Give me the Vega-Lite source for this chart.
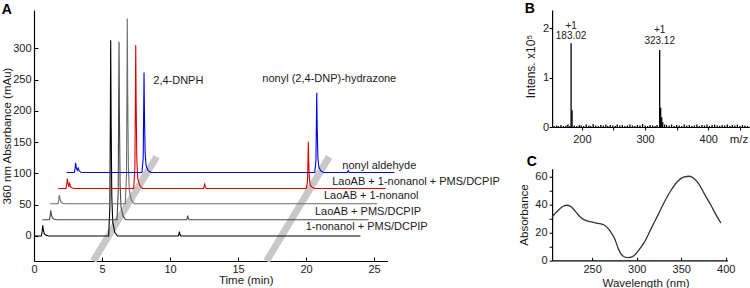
{
  "$schema": "https://vega.github.io/schema/vega-lite/v6.json",
  "padding": {"left": 1, "top": 1, "right": 0, "bottom": 0},
  "autosize": {"type": "pad"},
  "bounds": "flush",
  "spacing": 164.1,
  "config": {
    "view": {"stroke": null},
    "font": "Liberation Sans",
    "axis": {
      "labelFont": "Liberation Sans", "titleFont": "Liberation Sans",
      "labelFontSize": 11, "titleFontSize": 11.5, "titleFontWeight": "normal",
      "labelColor": "#1a1a1a", "titleColor": "#1a1a1a",
      "domainColor": "#000000", "tickColor": "#000000", "domainWidth": 1.2, "tickWidth": 1,
      "grid": false, "labelFlush": false, "labelOverlap": false
    }
  },
  "hconcat": [
    {
      "width": 353.6,
      "height": 251,
      "encoding": {
        "x": {"field": "t", "type": "quantitative",
          "scale": {"domain": [0, 26], "nice": false, "zero": false},
          "axis": {"values": [0, 5, 10, 15, 20, 25], "title": "Time (min)", "tickSize": -4, "labelPadding": 6,
                   "titleX": 211.7, "titleY": 19, "titleBaseline": "middle", "titleAlign": "center"}},
        "y": {"field": "v", "type": "quantitative",
          "scale": {"domain": [-40, 361.4], "nice": false, "zero": false},
          "axis": {"values": [0, 50, 100, 150, 200, 250, 300], "title": "360 nm Absorbance (mAu)", "tickSize": -4, "labelPadding": 7, "titlePadding": 0}}
      },
      "layer": [
        {
          "data": {"values": [
            {"t": 4.36, "v": -40, "band": 1}, {"t": 9.02, "v": 126.8, "band": 1},
            {"t": 17.1, "v": -40, "band": 2}, {"t": 21.7, "v": 126.5, "band": 2}
          ]},
          "mark": {"type": "line", "color": "#c8c8c8", "strokeWidth": 7, "strokeCap": "butt"},
          "encoding": {"detail": {"field": "band"}}
        },
        {
          "data": {"values": [
            {"s": "k", "t": 0, "v": 0}, {"s": "k", "t": 0.54, "v": 0}, {"s": "k", "t": 0.6, "v": 6.8}, {"s": "k", "t": 0.64, "v": 17}, {"s": "k", "t": 0.69, "v": 9.4}, {"s": "k", "t": 0.76, "v": 3.4}, {"s": "k", "t": 0.89, "v": 1}, {"s": "k", "t": 1.09, "v": 0},
            {"s": "k", "t": 5.49, "v": 0}, {"s": "k", "t": 5.58, "v": 47}, {"s": "k", "t": 5.62, "v": 219}, {"s": "k", "t": 5.64, "v": 313}, {"s": "k", "t": 5.67, "v": 188}, {"s": "k", "t": 5.72, "v": 63}, {"s": "k", "t": 5.79, "v": 22}, {"s": "k", "t": 5.94, "v": 6}, {"s": "k", "t": 6.14, "v": 0},
            {"s": "k", "t": 10.61, "v": 0}, {"s": "k", "t": 10.66, "v": 3.5}, {"s": "k", "t": 10.69, "v": 7}, {"s": "k", "t": 10.73, "v": 2.8}, {"s": "k", "t": 10.79, "v": 0}, {"s": "k", "t": 24.0, "v": 0},

            {"s": "d", "t": 0.61, "v": 26}, {"s": "d", "t": 1.13, "v": 26}, {"s": "d", "t": 1.19, "v": 32}, {"s": "d", "t": 1.23, "v": 41}, {"s": "d", "t": 1.28, "v": 34.3}, {"s": "d", "t": 1.35, "v": 29}, {"s": "d", "t": 1.48, "v": 26.9}, {"s": "d", "t": 1.68, "v": 26},
            {"s": "d", "t": 6.1, "v": 26}, {"s": "d", "t": 6.19, "v": 68.7}, {"s": "d", "t": 6.23, "v": 225.3}, {"s": "d", "t": 6.25, "v": 310.7}, {"s": "d", "t": 6.28, "v": 196.8}, {"s": "d", "t": 6.33, "v": 82.9}, {"s": "d", "t": 6.4, "v": 45.9}, {"s": "d", "t": 6.55, "v": 31.7}, {"s": "d", "t": 6.75, "v": 26},
            {"s": "d", "t": 11.22, "v": 26}, {"s": "d", "t": 11.27, "v": 29.3}, {"s": "d", "t": 11.3, "v": 32.5}, {"s": "d", "t": 11.34, "v": 28.6}, {"s": "d", "t": 11.4, "v": 26}, {"s": "d", "t": 24.6, "v": 26},

            {"s": "g", "t": 1.18, "v": 51.5}, {"s": "g", "t": 1.76, "v": 51.5}, {"s": "g", "t": 1.82, "v": 57.1}, {"s": "g", "t": 1.86, "v": 65.5}, {"s": "g", "t": 1.91, "v": 59.2}, {"s": "g", "t": 1.98, "v": 54.3}, {"s": "g", "t": 2.11, "v": 52.3}, {"s": "g", "t": 2.31, "v": 51.5},
            {"s": "g", "t": 6.71, "v": 51.5}, {"s": "g", "t": 6.8, "v": 96}, {"s": "g", "t": 6.84, "v": 259.1}, {"s": "g", "t": 6.86, "v": 348}, {"s": "g", "t": 6.89, "v": 229.4}, {"s": "g", "t": 6.94, "v": 110.8}, {"s": "g", "t": 7.01, "v": 72.3}, {"s": "g", "t": 7.16, "v": 57.4}, {"s": "g", "t": 7.36, "v": 51.5}, {"s": "g", "t": 25.24, "v": 51.5},

            {"s": "r", "t": 1.79, "v": 76}, {"s": "r", "t": 2.35, "v": 76}, {"s": "r", "t": 2.41, "v": 82.4}, {"s": "r", "t": 2.45, "v": 92}, {"s": "r", "t": 2.5, "v": 84.8}, {"s": "r", "t": 2.56, "v": 80}, {"s": "r", "t": 2.62, "v": 84}, {"s": "r", "t": 2.68, "v": 79}, {"s": "r", "t": 2.8, "v": 76.8}, {"s": "r", "t": 3.0, "v": 76},
            {"s": "r", "t": 7.33, "v": 76}, {"s": "r", "t": 7.42, "v": 110.4}, {"s": "r", "t": 7.46, "v": 236.6}, {"s": "r", "t": 7.48, "v": 305.4}, {"s": "r", "t": 7.51, "v": 213.6}, {"s": "r", "t": 7.56, "v": 121.9}, {"s": "r", "t": 7.63, "v": 92.1}, {"s": "r", "t": 7.78, "v": 80.6}, {"s": "r", "t": 7.98, "v": 76},
            {"s": "r", "t": 12.47, "v": 76}, {"s": "r", "t": 12.52, "v": 80}, {"s": "r", "t": 12.55, "v": 84}, {"s": "r", "t": 12.59, "v": 79.2}, {"s": "r", "t": 12.65, "v": 76},
            {"s": "r", "t": 20.02, "v": 76}, {"s": "r", "t": 20.11, "v": 87.2}, {"s": "r", "t": 20.15, "v": 128.4}, {"s": "r", "t": 20.17, "v": 150.8}, {"s": "r", "t": 20.2, "v": 120.9}, {"s": "r", "t": 20.25, "v": 91}, {"s": "r", "t": 20.32, "v": 81.2}, {"s": "r", "t": 20.47, "v": 77.5}, {"s": "r", "t": 20.67, "v": 76}, {"s": "r", "t": 25.86, "v": 76},

            {"s": "b", "t": 2.4, "v": 101.5}, {"s": "b", "t": 2.96, "v": 101.5}, {"s": "b", "t": 3.02, "v": 107.7}, {"s": "b", "t": 3.06, "v": 117}, {"s": "b", "t": 3.11, "v": 109}, {"s": "b", "t": 3.18, "v": 105}, {"s": "b", "t": 3.25, "v": 108.5}, {"s": "b", "t": 3.32, "v": 104}, {"s": "b", "t": 3.45, "v": 102}, {"s": "b", "t": 3.65, "v": 101.5},
            {"s": "b", "t": 7.94, "v": 101.5}, {"s": "b", "t": 8.03, "v": 125.5}, {"s": "b", "t": 8.07, "v": 213.6}, {"s": "b", "t": 8.09, "v": 261.6}, {"s": "b", "t": 8.12, "v": 197.6}, {"s": "b", "t": 8.17, "v": 133.5}, {"s": "b", "t": 8.24, "v": 112.7}, {"s": "b", "t": 8.39, "v": 104.7}, {"s": "b", "t": 8.59, "v": 101.5},
            {"s": "b", "t": 20.64, "v": 101.5}, {"s": "b", "t": 20.73, "v": 120.6}, {"s": "b", "t": 20.77, "v": 190.8}, {"s": "b", "t": 20.79, "v": 229}, {"s": "b", "t": 20.82, "v": 178}, {"s": "b", "t": 20.87, "v": 127}, {"s": "b", "t": 20.94, "v": 110.4}, {"s": "b", "t": 21.09, "v": 104.1}, {"s": "b", "t": 21.29, "v": 101.5},
            {"s": "b", "t": 23.02, "v": 101.5}, {"s": "b", "t": 23.1, "v": 104.5}, {"s": "b", "t": 23.18, "v": 101.5}, {"s": "b", "t": 26.5, "v": 101.5}
          ]},
          "mark": {"type": "line", "strokeWidth": 1.1},
          "encoding": {
            "color": {"field": "s", "type": "nominal", "legend": null,
              "scale": {"domain": ["k", "d", "g", "r", "b"], "range": ["#000000", "#4a4a4a", "#6e6e6e", "#e00000", "#0000e6"]}}
          }
        },
        {
          "data": {"values": [
            {"t": 8.77, "v": 248.4, "text": "2,4-DNPH"},
            {"t": 16.79, "v": 251, "text": "nonyl (2,4-DNP)-hydrazone"},
            {"t": 22.67, "v": 112.4, "text": "nonyl aldehyde"},
            {"t": 21.93, "v": 86.8, "text": "LaoAB + 1-nonanol + PMS/DCPIP"},
            {"t": 21.32, "v": 64, "text": "LaoAB + 1-nonanol"},
            {"t": 20.66, "v": 38.9, "text": "LaoAB + PMS/DCPIP"},
            {"t": 19.98, "v": 14.9, "text": "1-nonanol + PMS/DCPIP"}
          ]},
          "mark": {"type": "text", "align": "left", "baseline": "middle", "fontSize": 11, "color": "#1a1a1a"},
          "encoding": {"text": {"field": "text"}}
        },
        {
          "data": {"values": [{"t": -2.375, "v": 361.9, "text": "A"}]},
          "mark": {"type": "text", "align": "left", "baseline": "middle", "fontSize": 14, "fontWeight": "bold", "color": "#000000"},
          "encoding": {"text": {"field": "text"}}
        }
      ]
    },
    {
      "vconcat": [
        {
          "width": 198.3,
          "height": 117,
          "encoding": {
            "x": {"field": "mz", "type": "quantitative",
              "scale": {"domain": [153, 466.6], "nice": false, "zero": false},
              "axis": {"values": [200, 250, 300, 350, 400, 450], "labelExpr": "datum.value % 100 === 0 ? datum.label : ''",
                       "title": "m/z", "tickSize": 3, "labelPadding": 3,
                       "titleX": 186.3, "titleY": 12, "titleBaseline": "middle", "titleAlign": "center", "titleAngle": 0}},
            "y": {"field": "i", "type": "quantitative",
              "scale": {"domain": [0, 2.373], "nice": false, "zero": false},
              "axis": {"values": [0, 1, 2], "title": "Intens. x10⁵", "titleFontSize": 12, "titleY": 56, "tickSize": 3, "labelPadding": 0.5, "titlePadding": 5}}
          },
          "layer": [
            {
              "data": {"values": [
                {"mz": 183.02, "i": 1.70}, {"mz": 184.6, "i": 0.34},
                {"mz": 323.12, "i": 1.56}, {"mz": 324.7, "i": 0.39}, {"mz": 326.3, "i": 0.2}, {"mz": 327.9, "i": 0.1},
                {"mz": 156, "i": 0.02}, {"mz": 160, "i": 0.03}, {"mz": 163, "i": 0.02}, {"mz": 167, "i": 0.04}, {"mz": 171, "i": 0.02},
                {"mz": 175, "i": 0.03}, {"mz": 178, "i": 0.05}, {"mz": 181, "i": 0.02}, {"mz": 188, "i": 0.03}, {"mz": 192, "i": 0.02},
                {"mz": 196, "i": 0.04}, {"mz": 199, "i": 0.03}, {"mz": 203, "i": 0.02}, {"mz": 207, "i": 0.05}, {"mz": 211, "i": 0.03},
                {"mz": 214, "i": 0.02}, {"mz": 218, "i": 0.06}, {"mz": 222, "i": 0.03}, {"mz": 226, "i": 0.02}, {"mz": 230, "i": 0.04},
                {"mz": 234, "i": 0.03}, {"mz": 238, "i": 0.05}, {"mz": 241, "i": 0.02}, {"mz": 245, "i": 0.04}, {"mz": 249, "i": 0.03},
                {"mz": 253, "i": 0.02}, {"mz": 256, "i": 0.05}, {"mz": 260, "i": 0.03}, {"mz": 264, "i": 0.04}, {"mz": 268, "i": 0.02},
                {"mz": 272, "i": 0.03}, {"mz": 276, "i": 0.05}, {"mz": 280, "i": 0.03}, {"mz": 284, "i": 0.02}, {"mz": 288, "i": 0.04},
                {"mz": 292, "i": 0.03}, {"mz": 296, "i": 0.06}, {"mz": 300, "i": 0.03}, {"mz": 304, "i": 0.02}, {"mz": 308, "i": 0.04},
                {"mz": 312, "i": 0.03}, {"mz": 316, "i": 0.02}, {"mz": 319, "i": 0.04}, {"mz": 331, "i": 0.05}, {"mz": 334, "i": 0.04},
                {"mz": 338, "i": 0.03}, {"mz": 342, "i": 0.05}, {"mz": 346, "i": 0.02}, {"mz": 350, "i": 0.04}, {"mz": 354, "i": 0.03},
                {"mz": 358, "i": 0.02}, {"mz": 362, "i": 0.05}, {"mz": 366, "i": 0.03}, {"mz": 370, "i": 0.04}, {"mz": 374, "i": 0.02},
                {"mz": 378, "i": 0.03}, {"mz": 382, "i": 0.05}, {"mz": 386, "i": 0.02}, {"mz": 390, "i": 0.04}, {"mz": 394, "i": 0.03},
                {"mz": 398, "i": 0.05}, {"mz": 402, "i": 0.02}, {"mz": 406, "i": 0.04}, {"mz": 410, "i": 0.05}, {"mz": 414, "i": 0.03},
                {"mz": 418, "i": 0.02}, {"mz": 422, "i": 0.04}, {"mz": 426, "i": 0.03}, {"mz": 430, "i": 0.05}, {"mz": 434, "i": 0.02},
                {"mz": 438, "i": 0.04}, {"mz": 442, "i": 0.03}, {"mz": 446, "i": 0.05}, {"mz": 450, "i": 0.02}, {"mz": 454, "i": 0.04},
                {"mz": 458, "i": 0.03}, {"mz": 462, "i": 0.02}
              ]},
              "mark": {"type": "rule", "color": "#000000", "strokeWidth": 1.3},
              "encoding": {"y2": {"datum": 0}}
            },
            {
              "data": {"values": [
                {"mz": 183.02, "i": 2.05, "text": "+1"}, {"mz": 183.02, "i": 1.85, "text": "183.02"},
                {"mz": 323.12, "i": 1.97, "text": "+1"}, {"mz": 323.12, "i": 1.75, "text": "323.12"}
              ]},
              "mark": {"type": "text", "align": "center", "baseline": "middle", "fontSize": 10, "color": "#1a1a1a"},
              "encoding": {"text": {"field": "text"}}
            },
            {
              "data": {"values": [{"mz": 117.6, "i": 2.4, "text": "B"}]},
              "mark": {"type": "text", "align": "center", "baseline": "middle", "fontSize": 14, "fontWeight": "bold", "color": "#000000"},
              "encoding": {"text": {"field": "text"}}
            }
          ]
        },
        {
          "width": 175.4,
          "height": 91.6,
          "encoding": {
            "x": {"field": "w", "type": "quantitative",
              "scale": {"domain": [205, 402], "nice": false, "zero": false},
              "axis": {"values": [250, 300, 350, 400], "title": "Wavelength (nm)", "tickSize": -3, "labelPadding": 6,
                       "titleX": 93.5, "titleY": 22.7, "titleBaseline": "middle", "titleAlign": "center"}},
            "y": {"field": "a", "type": "quantitative",
              "scale": {"domain": [0, 65.4], "nice": false, "zero": false},
              "axis": {"values": [0, 10, 20, 30, 40, 50, 60], "labelExpr": "datum.value % 20 === 0 ? datum.label : ''",
                       "title": "Absorbance", "tickSize": 3, "labelPadding": 2, "titlePadding": 5}}
          },
          "layer": [
            {
              "data": {"values": [
                {"w": 205.0, "a": 30.9}, {"w": 211.8, "a": 35.7}, {"w": 217.4, "a": 38.6}, {"w": 222.2, "a": 39.3},
                {"w": 226.7, "a": 38.1}, {"w": 232.3, "a": 34.0}, {"w": 237.9, "a": 30.2}, {"w": 243.5, "a": 28.3},
                {"w": 249.1, "a": 27.4}, {"w": 256.5, "a": 26.4}, {"w": 264.0, "a": 25.0}, {"w": 269.6, "a": 21.4},
                {"w": 275.2, "a": 15.5}, {"w": 279.7, "a": 7.8}, {"w": 284.5, "a": 3.1}, {"w": 290.1, "a": 1.9},
                {"w": 295.7, "a": 2.8}, {"w": 301.3, "a": 6.4}, {"w": 308.8, "a": 13.1}, {"w": 316.2, "a": 22.6},
                {"w": 323.7, "a": 32.1}, {"w": 331.1, "a": 41.6}, {"w": 338.6, "a": 50.0}, {"w": 346.1, "a": 56.4},
                {"w": 353.5, "a": 59.5}, {"w": 359.1, "a": 60.0}, {"w": 364.7, "a": 58.3}, {"w": 370.3, "a": 54.0},
                {"w": 375.9, "a": 47.6}, {"w": 383.4, "a": 39.3}, {"w": 389.0, "a": 32.6}, {"w": 394.6, "a": 26.6}
              ]},
              "mark": {"type": "line", "color": "#333333", "strokeWidth": 1.3, "interpolate": "monotone"}
            },
            {
              "data": {"values": [{"w": 182.3, "a": 70.2, "text": "C"}]},
              "mark": {"type": "text", "align": "center", "baseline": "middle", "fontSize": 14, "fontWeight": "bold", "color": "#000000"},
              "encoding": {"text": {"field": "text"}}
            }
          ]
        }
      ],
      "spacing": 41.7,
      "bounds": "flush"
    }
  ]
}
